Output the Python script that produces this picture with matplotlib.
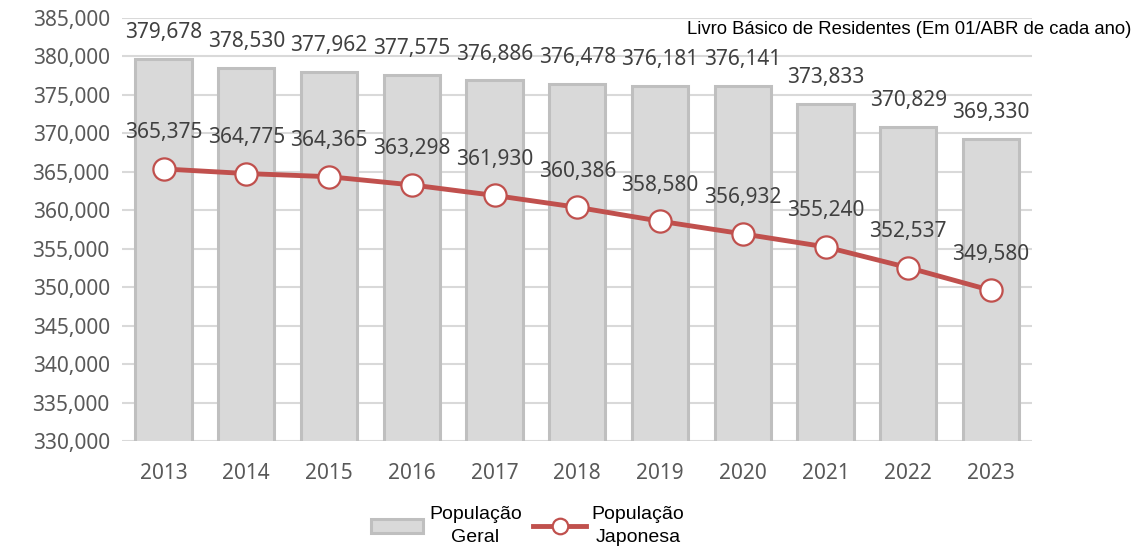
import matplotlib.pyplot as plt
import numpy as np

# dados (Livro Básico de Residentes)
anos = ['2013', '2014', '2015', '2016', '2017', '2018', '2019', '2020', '2021', '2022', '2023']
pop_geral = [379678, 378530, 377962, 377575, 376886, 376478, 376181, 376141, 373833, 370829, 369330]
pop_japonesa = [365375, 364775, 364365, 363298, 361930, 360386, 358580, 356932, 355240, 352537, 349580]

plt.rcParams['font.family'] = ['Noto Sans', 'DejaVu Sans']

fig = plt.figure(figsize=(11.42, 5.54), dpi=100)
ax = fig.add_axes([0.107, 0.204, 0.797, 0.7635])

x = np.arange(len(anos))
barras = ax.bar(x, pop_geral, width=0.68, bottom=0, color='#d9d9d9', edgecolor='#bfbfbf',
                linewidth=2.2, zorder=2, label='População\nGeral')
linha, = ax.plot(x, pop_japonesa, color='#c0504d', linewidth=3.5, marker='o', markersize=16,
                 markerfacecolor='white', markeredgecolor='#c0504d', markeredgewidth=1.6,
                 zorder=3, label='População\nJaponesa')

for xi, v in zip(x, pop_geral):
    ax.annotate(f'{v:,}', (xi, v), xytext=(0, 19), textcoords='offset points',
                ha='center', va='center', fontsize=15, color='#404040', zorder=4)
for xi, v in zip(x, pop_japonesa):
    ax.annotate(f'{v:,}', (xi, v), xytext=(0, 26), textcoords='offset points',
                ha='center', va='center', fontsize=15, color='#404040', zorder=4)

ax.set_ylim(330000, 385000)
ax.set_yticks(np.arange(330000, 385001, 5000))
ax.yaxis.set_major_formatter(plt.FuncFormatter(lambda v, p: f'{int(v):,}'))
ax.set_xlim(-0.5, len(anos) - 0.5)
ax.set_xticks(x)
ax.set_xticklabels(anos)
ax.tick_params(axis='both', length=0, labelsize=15, labelcolor='#595959')
ax.tick_params(axis='x', pad=16)
ax.tick_params(axis='y', pad=9)
ax.grid(axis='y', color='#d9d9d9', linewidth=1.5, zorder=0)
ax.set_axisbelow(True)
for s in ax.spines.values():
    s.set_visible(False)

fig.text(0.991, 0.946, 'Livro Básico de Residentes (Em 01/ABR de cada ano)',
         ha='right', va='center', fontsize=13.3, family=['Liberation Sans'], color='black')

leg = fig.legend([barras, linha], ['População\nGeral', 'População\nJaponesa'],
                 loc='center', bbox_to_anchor=(0.462, 0.05), ncol=2, frameon=False,
                 prop={'family': 'Liberation Sans', 'size': 14}, handlelength=2.7,
                 handletextpad=0.3, columnspacing=0.6, markerscale=0.7)
for t in leg.get_texts():
    t.set_multialignment('center')
    t.set_linespacing(1.45)

fig.savefig('out.png', dpi=100)
